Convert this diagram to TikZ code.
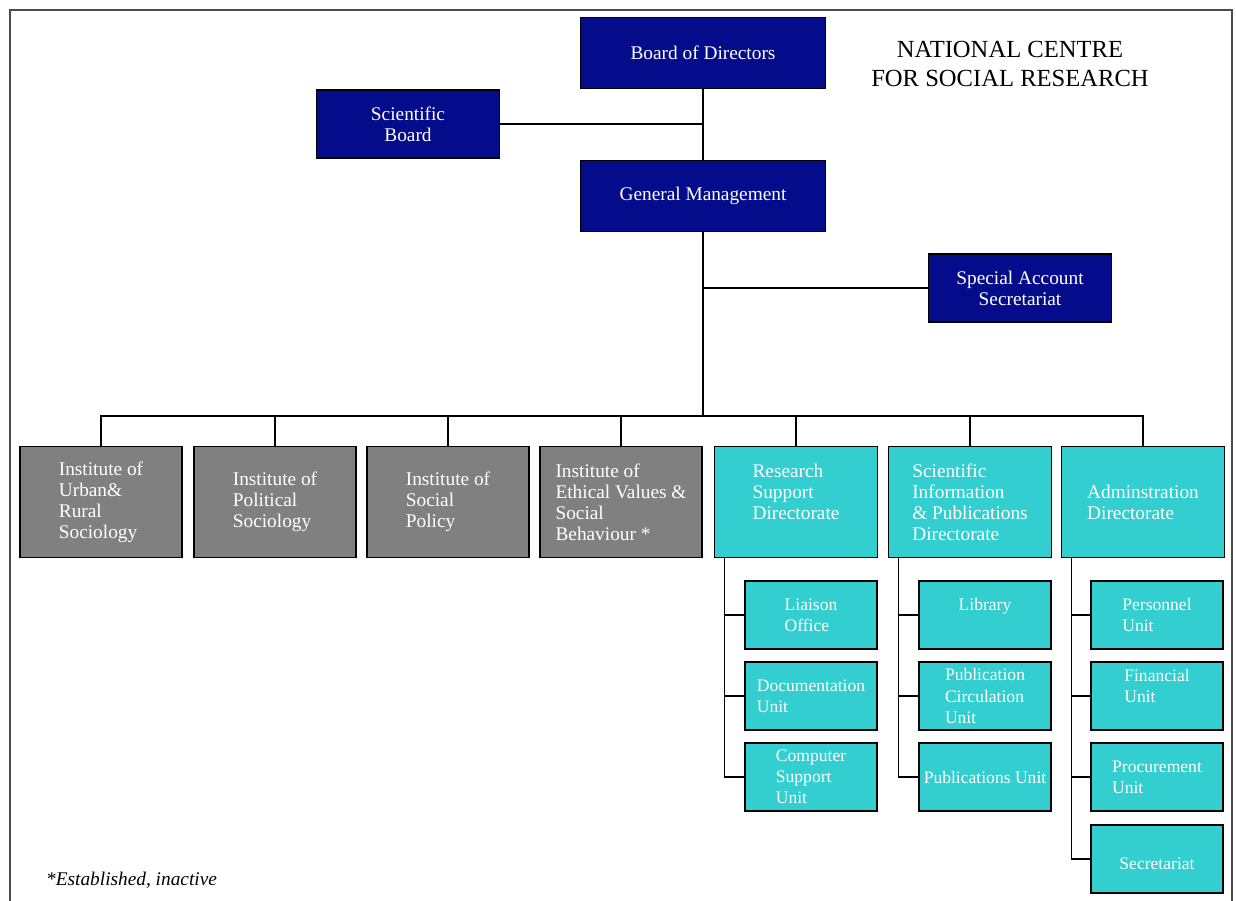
\documentclass[tikz,border=0pt]{standalone}
\usepackage{fontspec}
\setmainfont{Liberation Serif}
\usepackage{tikz}
\definecolor{navybox}{RGB}{4,12,140}
\definecolor{greybox}{RGB}{128,128,128}
\definecolor{cyanbox}{RGB}{50,206,208}

\begin{document}
\begin{tikzpicture}[x=0.02cm, y=-0.02cm,
    box/.style={rectangle, draw=black, line width=1pt, text=white,
      font=\fontsize{11}{12}\selectfont, inner sep=2pt},
    topbox/.style={box, fill=navybox, minimum width=4.9cm, minimum height=1.42cm},
    sidebox/.style={box, fill=navybox, minimum width=3.66cm, minimum height=1.37cm, align=center},
    instbox/.style={box, fill=greybox, minimum width=3.24cm, minimum height=2.22cm, align=left},
    dirbox/.style={box, fill=cyanbox, minimum width=3.26cm, minimum height=2.22cm, align=left},
    unitbox/.style={box, fill=cyanbox, minimum width=2.64cm, minimum height=1.36cm,
      align=left, inner sep=1pt, font=\fontsize{10}{12}\selectfont},
    link/.style={draw=black, line width=0.8pt}]
  \useasboundingbox (0,0) rectangle (1236,901);
  \draw[line width=1.2pt, draw=black!70] (10,901) |- (1232,10) -- (1232,901);

  % top of the chart
  \path
  (703,53) node[topbox](bod){Board of Directors}
  (408,124) node[sidebox](sb){Scientific\\Board}
  (703,196) node[topbox](gm){General Management}
  (1020,288) node[sidebox](sas){Special Account\\Secretariat};
  \node[font=\fontsize{14}{16}\selectfont, align=center](title) at (1010,64)
    {NATIONAL CENTRE\\FOR SOCIAL RESEARCH};

  \draw[link] (bod) -- (gm);
  \draw[link] (sb) -- (sb -| bod);
  \draw[link] (sas) -- (sas -| gm);

  % institutes and directorates
  \path
  (101,502) node[instbox](urs){Institute of\\Urban\&\\Rural\\Sociology}
  (275,502) node[instbox](pol){Institute of\\Political\\Sociology}
  (448,502) node[instbox](spol){Institute of\\Social\\Policy}
  (621,502) node[instbox](eth){Institute of\\Ethical Values \&\\Social\\Behaviour *}
  (796,502) node[dirbox](rsd){Research\\Support\\Directorate\\ \mbox{}}
  (970,502) node[dirbox](sipd){Scientific\\Information\\\& Publications\\Directorate}
  (1143,502) node[dirbox](adm){Adminstration\\Directorate};

  \coordinate (bus) at (703,416);
  \draw[link] (gm) -- (bus);
  \foreach \b in {urs,pol,spol,eth,rsd,sipd,adm}
    \draw[link] (\b) |- (bus);

  % units
  \path
  (811,615) node[unitbox](lo){Liaison\\Office}
  (811,696) node[unitbox](doc){Documentation\\Unit}
  (811,777) node[unitbox](csu){Computer\\Support\\Unit}
  (985,615) node[unitbox](lib){Library\\ \mbox{}}
  (985,696) node[unitbox](pcu){Publication\\Circulation\\Unit}
  (985,777) node[unitbox](pub){Publications Unit}
  (1157,615) node[unitbox](pers){Personnel\\Unit}
  (1157,696) node[unitbox](fin){Financial\\Unit\\ \mbox{}}
  (1157,777) node[unitbox](proc){Procurement\\Unit}
  (1157,859) node[unitbox](sec){\mbox{}\\Secretariat};

  \foreach \d/\u in {rsd/lo, rsd/doc, rsd/csu, sipd/lib, sipd/pcu, sipd/pub,
      adm/pers, adm/fin, adm/proc, adm/sec}
    \draw[link] ([xshift=0.22cm]\d.south west) |- (\u.west);

  \node[font=\fontsize{11}{13}\selectfont\itshape, anchor=west](note) at (40,880)
    {*Established, inactive};
\end{tikzpicture}
\end{document}
